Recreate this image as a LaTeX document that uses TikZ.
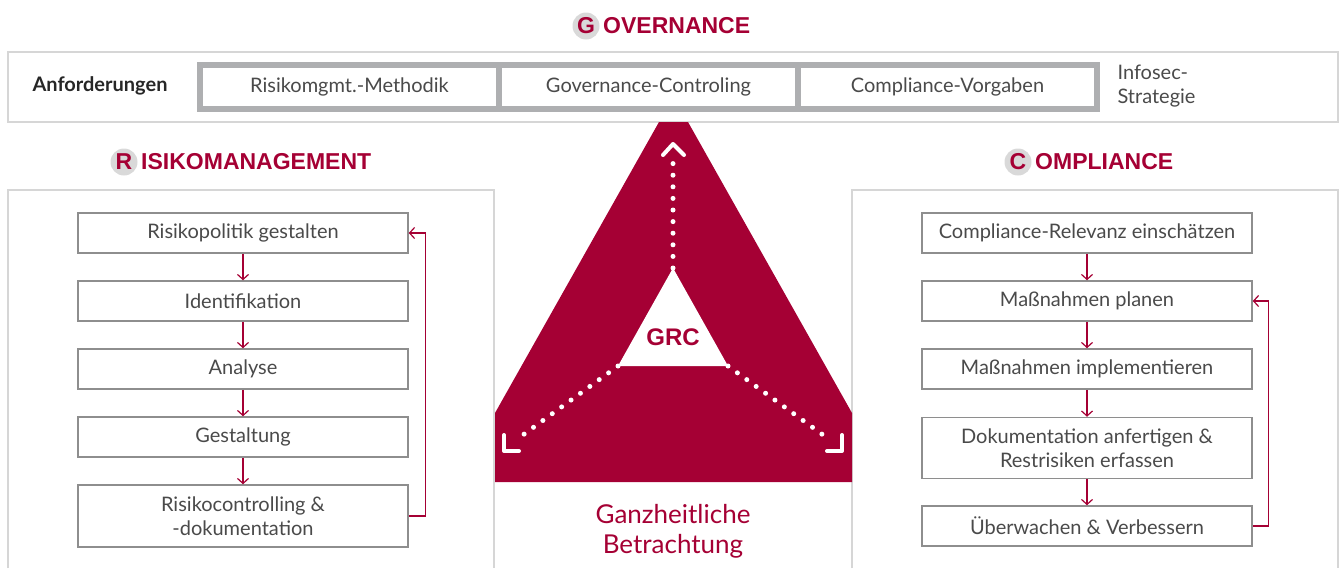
\documentclass[tikz,border=0pt]{standalone}
\usepackage{fontspec}
\setmainfont{Lato}
\newfontfamily\headfont{Liberation Sans}
\usetikzlibrary{arrows.meta,positioning}
\definecolor{grcred}{HTML}{A50034}
\definecolor{framegrey}{HTML}{AEAFB1}
\definecolor{panelgrey}{HTML}{D6D6D6}
\definecolor{circlegrey}{HTML}{D9D9D9}
\definecolor{boxgrey}{HTML}{8E8E8E}
\definecolor{txtgrey}{HTML}{4A4A4A}
\tikzset{x=1pt, y=-1pt, >={Straight Barb[length=5pt,width=11pt]}, font=\fontsize{20}{24}\selectfont}
\tikzstyle{panel} = [draw=panelgrey, line width=1.5pt]
\tikzstyle{block} = [draw=boxgrey, line width=1.5pt, fill=white, rectangle, minimum width=330pt, minimum height=40pt, text=txtgrey, align=center, inner sep=0pt]
\tikzstyle{cell} = [draw=framegrey, line width=6pt, fill=white, rectangle, minimum width=299pt, minimum height=44pt, outer sep=0pt, text=txtgrey]
\tikzstyle{flow} = [->, grcred, line width=1.2pt]
\tikzstyle{headline} = [text=grcred, font=\headfont\bfseries\fontsize{23}{23}\selectfont]
\tikzstyle{initial} = [circle, fill=circlegrey, minimum size=27pt, inner sep=0pt]
\tikzstyle{dots} = [white, line width=5pt, line cap=round, dash pattern=on 0pt off 11.6pt]
\tikzstyle{chevron} = [white, line width=4pt, line cap=round, line join=round]

\begin{document}
\begin{tikzpicture}
		\useasboundingbox (0,0) rectangle (1344,568);

		% Governance
		\node [initial, headline] (gov-init) at (586,26) {G};
		\node [headline, right=0pt of gov-init] (gov-title) {OVERNANCE};
		\draw [panel] (8,52) rectangle (1338,122);
		\node [font=\fontsize{20}{24}\selectfont\bfseries, text=black!85] (requirements) at (100,86) {Anforderungen};
		\node [cell] (method) at (349.5,87) {Risikomgmt.-Methodik};
		\node [cell, right=0pt of method] (controlling) {Governance-Controling};
		\node [cell, right=0pt of controlling] (targets) {Compliance-Vorgaben};
		\node [anchor=west, align=left, text=txtgrey, font=\fontsize{20}{24}\selectfont] (strategy) at (1114,86) {Infosec-\\Strategie};

		% panels
		\draw [panel] (8,568) -- (8,190) -- (494,190) -- (494,568);
		\draw [panel] (852,568) -- (852,190) -- (1338,190) -- (1338,568);

		% GRC triangle
		\fill [grcred] (659,122) -- (688,122) -- (852,413) -- (852,482) -- (495,482) -- (495,413) -- cycle;
		\coordinate (grc-top) at (673,268);
		\coordinate (grc-left) at (618,366);
		\coordinate (grc-right) at (728,366);
		\fill [white] (grc-top) -- (grc-left) -- (grc-right) -- cycle;
		\node [headline, font=\headfont\bfseries\fontsize{24}{24}\selectfont] (grc) at (673,337) {GRC};
		\coordinate (dots-top) at (673,161);
		\coordinate (dots-left) at (516,440);
		\coordinate (dots-right) at (830,440);
		\coordinate (tip-top) at (673,144);
		\coordinate (tip-left) at (504,451);
		\coordinate (tip-right) at (842,451);
		\draw [dots] (grc-top) -- (dots-top);
		\draw [dots] (grc-left) -- (dots-left);
		\draw [dots] (grc-right) -- (dots-right);
		\draw [chevron] ([shift={(-10,11)}]tip-top) -- (tip-top) -- ([shift={(11,11)}]tip-top);
		\draw [chevron] ([shift={(0,-16)}]tip-left) -- (tip-left) -- ([shift={(15,0)}]tip-left);
		\draw [chevron] ([shift={(0,-16)}]tip-right) -- (tip-right) -- ([shift={(-15,0)}]tip-right);
		\node [text=grcred, align=center, font=\fontsize{26}{30}\selectfont] (holistic) at (673,531) {Ganzheitliche\\Betrachtung};

		% Risikomanagement
		\node [initial, headline] (risk-init) at (124,162) {R};
		\node [headline, right=0pt of risk-init] (risk-title) {ISIKOMANAGEMENT};
		\node [block] (policy) at (243,233) {Risikopolitik gestalten};
		\node [block] (identify) at (243,301) {Identifikation};
		\node [block] (analyse) at (243,369) {Analyse};
		\node [block] (design) at (243,437) {Gestaltung};
		\node [block, minimum height=62pt] (riskctrl) at (243,516) {Risikocontrolling \&\\-dokumentation};
		\draw [flow] (policy) -- (identify);
		\draw [flow] (identify) -- (analyse);
		\draw [flow] (analyse) -- (design);
		\draw [flow] (design) -- (riskctrl);
		\draw [flow] (riskctrl.east) -- ++(17,0) |- (policy.east);

		% Compliance
		\node [initial, headline] (comp-init) at (1018,162) {C};
		\node [headline, right=0pt of comp-init] (comp-title) {OMPLIANCE};
		\node [block] (relevance) at (1087,233) {Compliance-Relevanz einschätzen};
		\node [block] (plan) at (1087,301) {Maßnahmen planen};
		\node [block] (implement) at (1087,369) {Maßnahmen implementieren};
		\node [block, minimum height=61pt] (document) at (1087,448) {Dokumentation anfertigen \&\\Restrisiken erfassen};
		\node [block] (monitor) at (1087,526) {Überwachen \& Verbessern};
		\draw [flow] (relevance) -- (plan);
		\draw [flow] (plan) -- (implement);
		\draw [flow] (implement) -- (document);
		\draw [flow] (document) -- (monitor);
		\draw [flow] (monitor.east) -- ++(16,0) |- (plan.east);
	\end{tikzpicture}
\end{document}
